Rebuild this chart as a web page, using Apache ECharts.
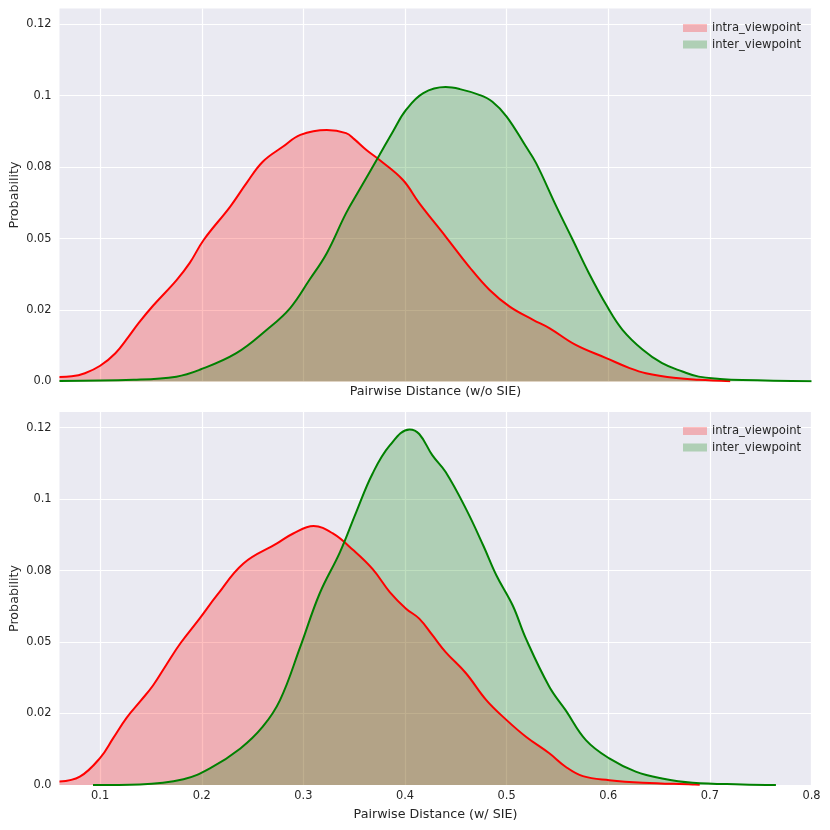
<!DOCTYPE html>
<html>
<head>
<meta charset="utf-8">
<script src="https://cdn.jsdelivr.net/npm/echarts@6/dist/echarts.min.js"></script>
<style>
  html, body { margin: 0; padding: 0; background: #fff; }
  #chart { width: 830px; height: 830px; }
</style>
</head>
<body>
<div id="chart"></div>
<script>
// x ticks / y ticks (y labels as printed on the figure)
const xTicks = [0.1, 0.2, 0.3, 0.4, 0.5, 0.6, 0.7, 0.8];
const yTicks = [0, 0.025, 0.05, 0.075, 0.1, 0.125];
const yTickLabels = ["0.0", "0.02", "0.05", "0.08", "0.1", "0.12"];

// top panel: w/o SIE
const topIntraX = [0.06, 0.072, 0.085, 0.1, 0.115, 0.128, 0.138, 0.152, 0.175, 0.188, 0.202, 0.228, 0.244, 0.26, 0.28, 0.297, 0.323, 0.342, 0.35, 0.362, 0.375, 0.398, 0.414, 0.44, 0.463, 0.483, 0.503, 0.526, 0.542, 0.568, 0.598, 0.621, 0.637, 0.667, 0.689, 0.72];
const topIntraY = [0.0016, 0.0018, 0.0029, 0.0055, 0.0099, 0.0157, 0.0205, 0.0265, 0.0354, 0.0414, 0.0496, 0.0612, 0.0694, 0.0769, 0.0822, 0.0863, 0.088, 0.0869, 0.0848, 0.081, 0.0775, 0.0705, 0.0624, 0.0507, 0.0402, 0.0321, 0.0262, 0.0216, 0.0187, 0.0128, 0.0082, 0.0047, 0.0029, 0.0012, 0.0006, 0.0001];
const topInterX = [0.06, 0.133, 0.175, 0.198, 0.234, 0.264, 0.287, 0.306, 0.323, 0.342, 0.355, 0.375, 0.388, 0.401, 0.418, 0.44, 0.454, 0.473, 0.486, 0.5, 0.519, 0.529, 0.549, 0.565, 0.581, 0.599, 0.614, 0.634, 0.653, 0.673, 0.689, 0.71, 0.732, 0.8];
const topInterY = [0.0002, 0.0006, 0.0017, 0.0041, 0.0099, 0.0181, 0.0257, 0.0356, 0.0449, 0.0589, 0.067, 0.0793, 0.0874, 0.095, 0.1009, 0.103, 0.1023, 0.1003, 0.0979, 0.0927, 0.0822, 0.0764, 0.0612, 0.0496, 0.0379, 0.0262, 0.0181, 0.0111, 0.0064, 0.0035, 0.0017, 0.0009, 0.0005, 0.0001];

// bottom panel: w/ SIE
const botIntraX = [0.06, 0.08, 0.1, 0.113, 0.126, 0.14, 0.152, 0.165, 0.179, 0.198, 0.215, 0.241, 0.274, 0.29, 0.31, 0.329, 0.349, 0.368, 0.385, 0.401, 0.414, 0.427, 0.44, 0.46, 0.48, 0.5, 0.519, 0.542, 0.558, 0.575, 0.601, 0.634, 0.683, 0.69];
const botIntraY = [0.0012, 0.0029, 0.0095, 0.0165, 0.0235, 0.0295, 0.0348, 0.042, 0.0496, 0.0583, 0.0664, 0.0775, 0.0845, 0.088, 0.0906, 0.088, 0.0822, 0.0756, 0.0675, 0.0617, 0.0582, 0.0524, 0.0465, 0.0391, 0.0297, 0.0227, 0.0169, 0.0111, 0.0064, 0.0031, 0.0017, 0.0008, 0.0002, 0.0001];
const botInterX = [0.093, 0.139, 0.182, 0.208, 0.238, 0.26, 0.277, 0.297, 0.316, 0.336, 0.352, 0.368, 0.385, 0.4045, 0.414, 0.427, 0.44, 0.46, 0.477, 0.49, 0.506, 0.519, 0.542, 0.558, 0.578, 0.601, 0.627, 0.653, 0.683, 0.732, 0.765];
const botInterY = [0, 0.0002, 0.002, 0.0058, 0.0128, 0.0204, 0.0297, 0.0484, 0.067, 0.0815, 0.0955, 0.1089, 0.1188, 0.1244, 0.1228, 0.1153, 0.1095, 0.0966, 0.0838, 0.0733, 0.0628, 0.0512, 0.0344, 0.0262, 0.0157, 0.0093, 0.0047, 0.0023, 0.0008, 0.0002, 0];

const names = ["intra_viewpoint", "inter_viewpoint"];
const FONT = "DejaVu Sans";
const TXT = "#262626";

const zip = (xs, ys) => xs.map((x, i) => [x, ys[i]]);

const chart = echarts.init(document.getElementById("chart"));

function xAxisFor(gridIndex, name, showLabels, nameGap) {
  return {
    type: "value",
    gridIndex: gridIndex,
    min: 0.06,
    max: 0.8,
    name: name,
    nameLocation: "middle",
    nameGap: nameGap,
    nameMoveOverlap: false,
    nameTextStyle: { fontFamily: FONT, fontSize: 12.7, color: TXT },
    axisLine: { show: false },
    axisTick: { show: false, customValues: xTicks },
    axisLabel: {
      show: showLabels,
      customValues: xTicks,
      margin: 6,
      fontFamily: FONT,
      fontSize: 11.4,
      color: TXT,
      formatter: (v) => String(Math.round(v * 10) / 10)
    },
    splitLine: { show: true, lineStyle: { color: "#ffffff", width: 1.2 } }
  };
}

function yAxisFor(gridIndex) {
  return {
    type: "value",
    gridIndex: gridIndex,
    min: 0,
    max: 0.1305,
    name: "Probability",
    nameLocation: "middle",
    nameGap: 38,
    nameMoveOverlap: false,
    nameTextStyle: { fontFamily: FONT, fontSize: 12.7, color: TXT },
    axisLine: { show: false },
    axisTick: { show: false, customValues: yTicks },
    axisLabel: {
      customValues: yTicks,
      margin: 8,
      fontFamily: FONT,
      fontSize: 11.4,
      color: TXT,
      formatter: (v) => yTickLabels[Math.round(v / 0.025)]
    },
    splitLine: { show: true, lineStyle: { color: "#ffffff", width: 1.2 } }
  };
}

function kde(name, data, gridIndex, color, fill) {
  return {
    name: name,
    type: "line",
    xAxisIndex: gridIndex,
    yAxisIndex: gridIndex,
    data: data,
    smooth: 0.4,
    showSymbol: false,
    lineStyle: { color: color, width: 2 },
    itemStyle: { color: color },
    areaStyle: { color: fill, opacity: 1 }
  };
}

const redFill = "rgba(255,0,0,0.25)";
const greenFill = "rgba(0,128,0,0.25)";

function legendAt(top) {
  return {
    orient: "vertical",
    left: 678,
    top: top,
    itemWidth: 24,
    itemHeight: 8,
    itemGap: 4.5,
    textStyle: { fontFamily: FONT, fontSize: 11.6, color: TXT },
    data: [
      { name: names[0], icon: "rect", itemStyle: { color: redFill, borderWidth: 0 }, lineStyle: { width: 0 } },
      { name: names[1], icon: "rect", itemStyle: { color: greenFill, borderWidth: 0 }, lineStyle: { width: 0 } }
    ]
  };
}

const option = {
  animation: false,
  backgroundColor: "#ffffff",
  legend: [legendAt(17), legendAt(420)],
  grid: [
    { left: 59.5, top: 8.5, width: 752, height: 373, show: true, backgroundColor: "#EAEAF2", borderWidth: 0, outerBoundsMode: "none" },
    { left: 59.5, top: 412, width: 752, height: 373, show: true, backgroundColor: "#EAEAF2", borderWidth: 0, outerBoundsMode: "none" }
  ],
  xAxis: [
    xAxisFor(0, "Pairwise Distance (w/o SIE)", false, 3.5),
    xAxisFor(1, "Pairwise Distance (w/ SIE)", true, 23)
  ],
  yAxis: [yAxisFor(0), yAxisFor(1)],
  series: [
    kde(names[0], zip(topIntraX, topIntraY), 0, "#ff0000", redFill),
    kde(names[1], zip(topInterX, topInterY), 0, "#008000", greenFill),
    kde(names[0], zip(botIntraX, botIntraY), 1, "#ff0000", redFill),
    kde(names[1], zip(botInterX, botInterY), 1, "#008000", greenFill)
  ]
};

chart.setOption(option);
</script>
</body>
</html>
